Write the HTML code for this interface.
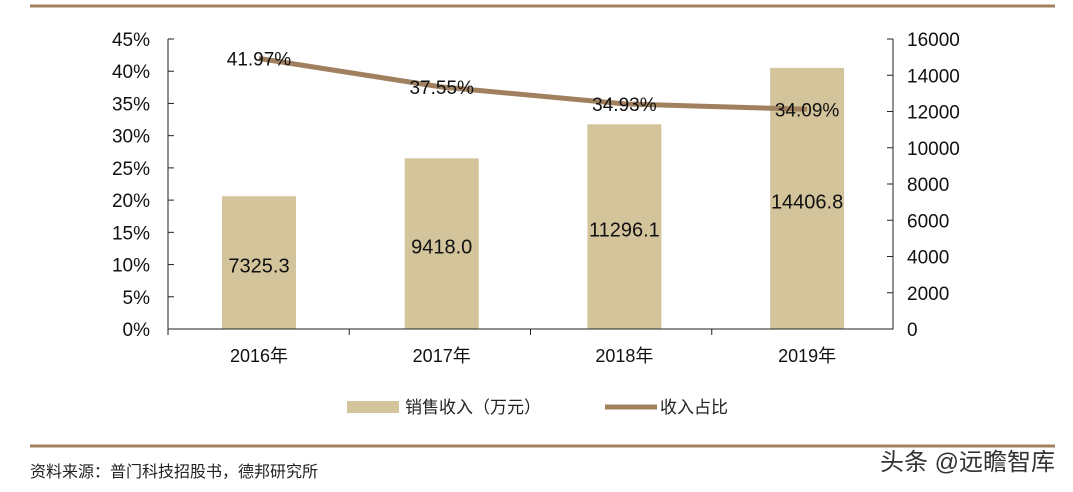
<!DOCTYPE html>
<html><head><meta charset="utf-8"><style>
body{margin:0;background:#fff;width:1073px;height:487px;overflow:hidden}
svg text{font-family:"Liberation Sans","Noto Sans CJK SC",sans-serif}
</style></head><body>
<svg id="c" width="1073" height="487">
<line x1="30" y1="6" x2="1055" y2="6" stroke="#a0805e" stroke-width="3"/>
<line x1="30" y1="446" x2="1055" y2="446" stroke="#a0805e" stroke-width="3"/>
<g id="plot"></g>
<g>
<rect x="347" y="401" width="52" height="12" fill="#d4c49c"/>
<text x="405" y="413" font-size="17" fill="#222">销售收入（万元）</text>
<line x1="605" y1="407" x2="657" y2="407" stroke="#a0805e" stroke-width="5"/>
<text x="660" y="413" font-size="17" fill="#222">收入占比</text>
</g>
<text x="30" y="477" font-size="16" fill="#222" font-family="'Noto Serif CJK SC',serif">资料来源：普门科技招股书，德邦研究所</text>
<text x="1055" y="470" font-size="24" fill="#333" text-anchor="end">头条 @远瞻智库</text>
</svg>
<script>
const categories=["2016年","2017年","2018年","2019年"];
const sales=[7325.3,9418.0,11296.1,14406.8];
const salesLabels=["7325.3","9418.0","11296.1","14406.8"];
const ratio=[41.97,37.55,34.93,34.09];
const leftTicks=[0,5,10,15,20,25,30,35,40,45];
const rightTicks=[0,2000,4000,6000,8000,10000,12000,14000,16000];
const NS="http://www.w3.org/2000/svg";
const g=document.getElementById("plot");
const L=168,R=893,T=39,B=329;
const yl=v=>B-(v/45)*(B-T);
const yr=v=>B-(v/16000)*(B-T);
const bw=(R-L)/categories.length;
const step=182.7;
const xc=i=>259+step*i;
function mk(t,a){const e=document.createElementNS(NS,t);for(const k in a)e.setAttribute(k,a[k]);g.appendChild(e);return e;}
categories.forEach((c,i)=>{
 const y=yr(sales[i]);
 const b=mk("rect",{x:xc(i)-37,y:y,width:74,height:B-y,fill:"#d4c49c"});
 
 
 const t=mk("text",{x:xc(i),y:(y+B)/2+10,"font-size":20,"text-anchor":"middle",fill:"#111"});t.textContent=salesLabels[i];
 
 
 const xl=mk("text",{x:xc(i),y:362,"font-size":18,"text-anchor":"middle",fill:"#111"});xl.textContent=c;
 
 
});
const ax=mk("path",{d:`M${L},${T}V${B}H${R}V${T}`,fill:"none",stroke:"#222","stroke-width":1});


leftTicks.forEach(v=>{
 mk("line",{x1:L,x2:L+6,y1:yl(v),y2:yl(v),stroke:"#222"});
 const t=mk("text",{x:L-18,y:yl(v)+7,"font-size":19,"text-anchor":"end",fill:"#111"});t.textContent=v+"%";
 
 
});
rightTicks.forEach(v=>{
 mk("line",{x1:R-6,x2:R,y1:yr(v),y2:yr(v),stroke:"#222"});
 const t=mk("text",{x:R+14,y:yr(v)+7,"font-size":19,"text-anchor":"start",fill:"#111"});t.textContent=v;
 
 
});
for(let i=0;i<categories.length;i++)mk("line",{x1:L+bw*i,x2:L+bw*i,y1:B,y2:B+6,stroke:"#222"});
const ln=mk("polyline",{points:ratio.map((v,i)=>xc(i)+","+yl(v)).join(" "),fill:"none",stroke:"#a0805e","stroke-width":5,"stroke-linejoin":"round"});


ratio.forEach((v,i)=>{
 const t=mk("text",{x:xc(i),y:yl(v)+7,"font-size":19,"text-anchor":"middle",fill:"#111"});t.textContent=v.toFixed(2)+"%";
 
 
});
</script>
</body></html>
